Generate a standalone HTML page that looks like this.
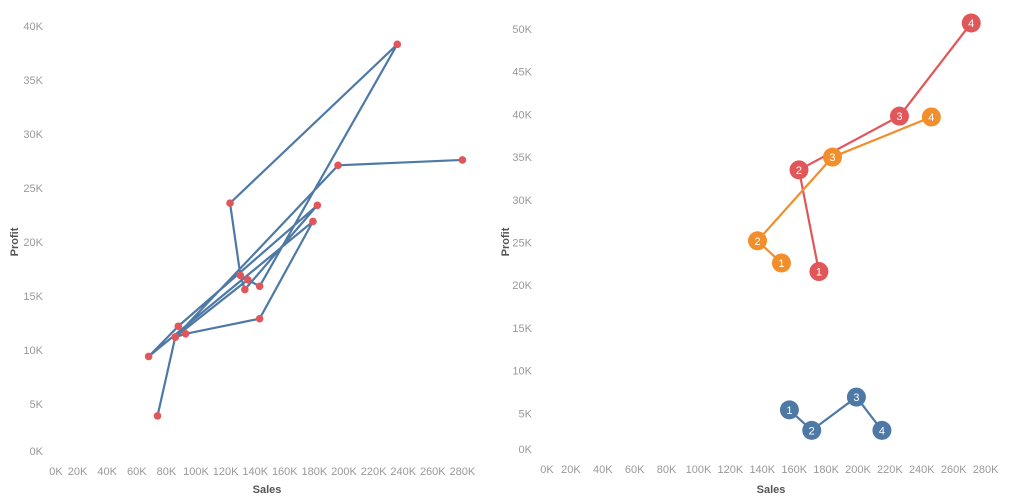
<!DOCTYPE html>
<html><head><meta charset="utf-8"><style>
html,body{margin:0;padding:0;background:#fff;width:1024px;height:500px;overflow:hidden}
svg text{font-family:"Liberation Sans",sans-serif}
</style></head><body>
<svg id="chart" width="1024" height="500"></svg>
<script>
// Left chart data (Sales, Profit) in order of connected path
const leftSales = [74000,86000,93000,143000,179000,68000,88000,182000,133000,130000,123000,236000,143000,135000,86000,196000,280000];
const leftProfit = [3900,11200,11500,12900,21900,9400,12200,23400,15600,16900,23600,38300,15900,16500,11200,27100,27600];
const leftXTicks = [0,20000,40000,60000,80000,100000,120000,140000,160000,180000,200000,220000,240000,260000,280000];
const leftYTicks = [0,5000,10000,15000,20000,25000,30000,35000,40000];
// Right chart data
const rightSeriesNames = ["red","orange","blue"];
const redSales = [175500,163000,226000,271000];
const redProfit = [21600,33500,39800,50700];
const orangeSales = [152000,137000,184000,246000];
const orangeProfit = [22600,25200,35000,39700];
const blueSales = [157000,171000,199000,215000];
const blueProfit = [5400,3000,6900,3000];
const pointLabels = ["1","2","3","4"];
const rightXTicks = [0,20000,40000,60000,80000,100000,120000,140000,160000,180000,200000,220000,240000,260000,280000];
const rightYTicks = [0,5000,10000,15000,20000,25000,30000,35000,40000,45000,50000];

const NS="http://www.w3.org/2000/svg";
const svg=document.getElementById('chart');
function mk(tag,attrs,parent,text){const e=document.createElementNS(NS,tag);for(const k in attrs)e.setAttribute(k,attrs[k]);if(text!==undefined)e.textContent=text;(parent||svg).appendChild(e);return e;}
function fmt(v){return (v/1000)+"K";}

// Left scales
const lx=v=>48+v*29.6/20000;
const ly=v=>458-v*54/5000;
// Right scales
const rx=v=>539+v*31.9/20000;
const ry=v=>456-v*42.7/5000;

function axes(xs,ys,xT,yT,xLabelY,yLabelX,titleX,titleY,profitX,name){
  const g=mk('g',{});
  
  
  xT.forEach(t=>{const e=mk('text',{x:xs(t)+ (t===0?8:0),y:xLabelY,'text-anchor':'middle','font-size':'11',fill:'#999'},g,fmt(t));
    
    });
  yT.forEach(t=>{const e=mk('text',{x:yLabelX,y:ys(t)+4-(t===0?7:0),'text-anchor':'end','font-size':'11',fill:'#999'},g,fmt(t));
    
    });
  const xt=mk('text',{x:titleX,y:titleY,'text-anchor':'middle','font-size':'11','font-weight':'bold',fill:'#555'},g,'Sales');
  
  
  const yt=mk('text',{x:0,y:0,transform:`translate(${profitX},242) rotate(-90)`,'text-anchor':'middle','font-size':'11','font-weight':'bold',fill:'#555'},g,'Profit');
  
  
}
axes(lx,ly,leftXTicks,leftYTicks,475,43,267,493,18,'left');
axes(rx,ry,rightXTicks,rightYTicks,473,532,771,493,509,'right');

// Left line
const lp=mk('polyline',{points:leftSales.map((s,i)=>lx(s)+','+ly(leftProfit[i])).join(' '),fill:'none',stroke:'#4e79a7','stroke-width':'2.2','stroke-linejoin':'round'});


leftSales.forEach((s,i)=>{const c=mk('circle',{cx:lx(s),cy:ly(leftProfit[i]),r:3.8,fill:'#e15759'});
  
  });

// Right series
const rs=[[redSales,redProfit,'#e15759'],[orangeSales,orangeProfit,'#f28e2b'],[blueSales,blueProfit,'#4e79a7']];
rs.forEach(([S,P,col],k)=>{
  const l=mk('polyline',{points:S.map((s,i)=>rx(s)+','+ry(P[i])).join(' '),fill:'none',stroke:col,'stroke-width':'2.2'});
  
  
  S.forEach((s,i)=>{
    const c=mk('circle',{cx:rx(s),cy:ry(P[i]),r:9.5,fill:col});
    
    
    const t=mk('text',{x:rx(s),y:ry(P[i])+4,'text-anchor':'middle','font-size':'11',fill:'#fff'},svg,pointLabels[i]);
    
    
  });
});
</script>
</body></html>
